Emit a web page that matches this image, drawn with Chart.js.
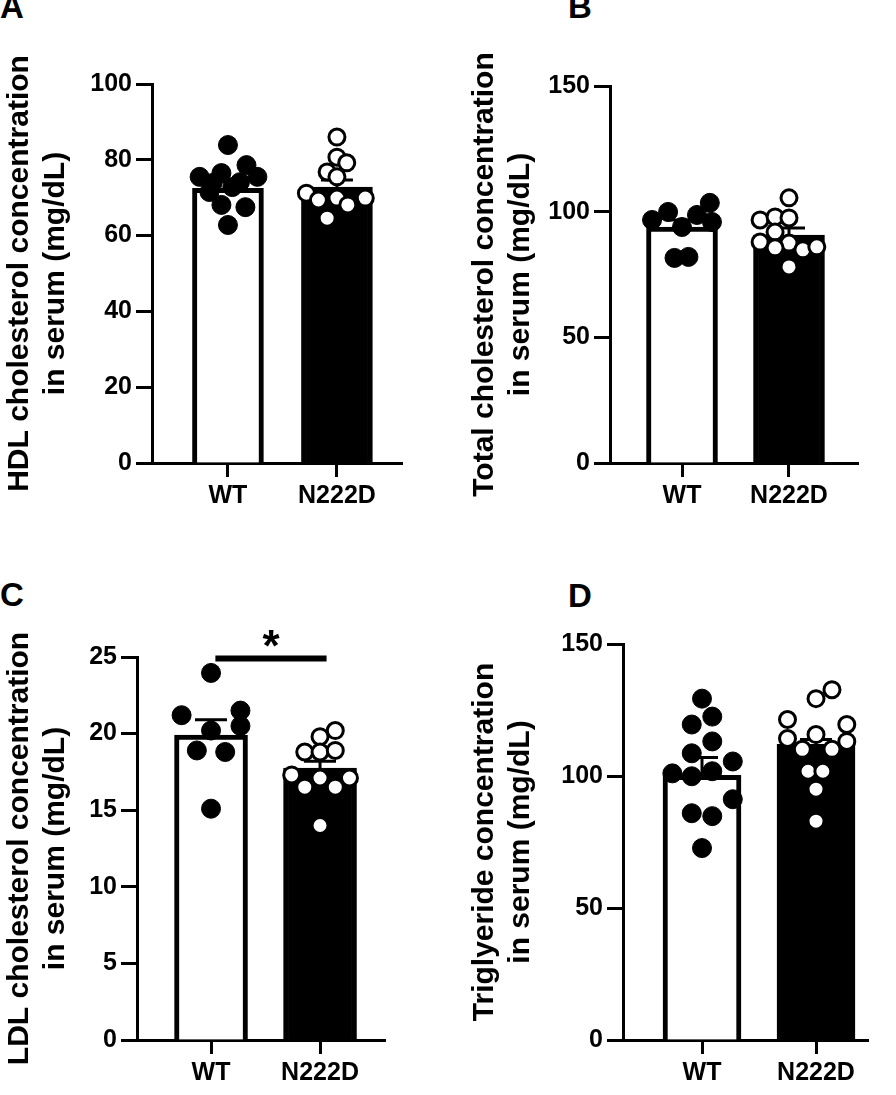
<!DOCTYPE html>
<html>
<head>
<meta charset="utf-8">
<script src="https://cdn.jsdelivr.net/npm/chart.js@4.4.0/dist/chart.umd.min.js"></script>
<style>
  body { margin: 0; background: #fff; width: 896px; height: 1095px; position: relative; overflow: hidden;
         font-family: "Liberation Sans", Arial, sans-serif; }
  canvas { position: absolute; }
  .tag { position: absolute; font-weight: bold; font-size: 33px; line-height: 1; color: #000; }
</style>
</head>
<body>
<div class="tag" style="left:0px;top:-10px">A</div>
<div class="tag" style="left:568px;top:-10px">B</div>
<div class="tag" style="left:0px;top:578px">C</div>
<div class="tag" style="left:568px;top:579px">D</div>

<canvas id="chartA" width="448" height="540" style="left:0;top:0"></canvas>
<canvas id="chartB" width="448" height="540" style="left:448px;top:0"></canvas>
<canvas id="chartC" width="448" height="555" style="left:0;top:540px"></canvas>
<canvas id="chartD" width="448" height="555" style="left:448px;top:540px"></canvas>

<script>
const groups = ['WT', 'N222D'];

// A - HDL cholesterol
const hdlMean = [72.5, 72.8];
const hdlSem = [1.7, 1.9];
const hdlWT = [83.9, 75.5, 76.5, 78.6, 75.5, 71.5, 72.8, 68.1, 67.5, 62.8, 74.1, 73.9];
const hdlWTx = [0, -0.26, -0.06, 0.17, 0.27, -0.17, 0.04, -0.06, 0.16, 0, 0.11, -0.14];
const hdlMut = [86.0, 80.7, 79.2, 76.8, 75.5, 71.2, 69.4, 69.9, 68.1, 69.9, 64.6];
const hdlMutx = [0, 0, 0.09, -0.09, 0, -0.28, -0.17, 0, 0.1, 0.26, -0.09];

// B - total cholesterol
const totMean = [93.9, 90.7];
const totSem = [2.8, 2.8];
const totWT = [96.7, 99.9, 98.7, 103.5, 95.9, 93.9, 81.6, 82.0];
const totWTx = [-0.28, -0.13, 0.14, 0.26, 0.28, 0, -0.07, 0.06];
const totMut = [105.5, 96.7, 97.9, 97.5, 91.9, 87.9, 87.5, 85.6, 84.8, 86.0, 78.0];
const totMutx = [0, -0.27, -0.13, 0, -0.13, -0.27, 0, -0.13, 0.13, 0.26, 0];

// C - LDL cholesterol
const ldlMean = [19.9, 17.75];
const ldlSem = [1.0, 0.45];
const ldlWT = [23.96, 21.2, 21.5, 20.5, 20.2, 18.9, 18.8, 15.1];
const ldlWTx = [0, -0.27, 0.27, 0.27, 0, -0.13, 0.13, 0];
const ldlMut = [20.2, 19.8, 18.8, 18.8, 18.9, 17.3, 17.1, 17.1, 16.5, 16.5, 14.0];
const ldlMutx = [0.14, 0, -0.14, 0, 0.14, -0.26, 0, 0.27, -0.14, 0.14, 0];
const ldlSig = { from: 1.04, to: 2.06, y: 24.9, label: '*' };

// D - triglyceride
const tgMean = [100.3, 112.0];
const tgSem = [6.7, 1.8];
const tgWT = [129.3, 122.5, 119.5, 113.1, 108.6, 105.5, 101.0, 99.9, 101.8, 91.2, 85.9, 84.8, 72.7];
const tgWTx = [0, 0.09, -0.09, 0.09, -0.09, 0.27, -0.26, -0.09, 0.09, 0.27, -0.09, 0.09, 0];
const tgMut = [129.3, 132.7, 121.4, 119.5, 114.2, 115.7, 113.1, 110.1, 110.1, 101.8, 101.8, 95.0, 82.9];
const tgMutx = [0, 0.14, -0.25, 0.27, -0.25, 0, 0.27, -0.12, 0.14, -0.07, 0.06, 0, 0];

const FONT = '"Liberation Sans", Arial, sans-serif';

// group g sits at x = g + 1 on the linear x axis
function pts(vals, offs, g) {
    return vals.map((v, i) => ({ x: g + 1 + offs[i], y: v }));
}

function makePanel(id, p) {
    const canvas = document.getElementById(id);
    const W = canvas.width, H = canvas.height;

    // mean + SEM, drawn right after the bars so the dots sit on top
    const errorBars = {
        id: 'errorBars',
        afterDatasetDraw(chart, args) {
            if (args.meta.type !== 'bar') return;
            const { ctx, scales: { x, y } } = chart;
            ctx.save();
            ctx.strokeStyle = '#000';
            ctx.lineWidth = 3;
            p.mean.forEach((m, i) => {
                const px = x.getPixelForValue(i + 1);
                const base = y.getPixelForValue(m);
                const top = y.getPixelForValue(m + p.sem[i]);
                ctx.beginPath();
                ctx.moveTo(px, base);
                ctx.lineTo(px, top);
                ctx.moveTo(px - 16, top);
                ctx.lineTo(px + 16, top);
                ctx.stroke();
            });
            ctx.restore();
        }
    };

    const sigMark = {
        id: 'sigMark',
        afterDraw(chart) {
            if (!p.sig) return;
            const { ctx, scales: { x, y } } = chart;
            const x1 = x.getPixelForValue(p.sig.from);
            const x2 = x.getPixelForValue(p.sig.to);
            const py = y.getPixelForValue(p.sig.y);
            ctx.save();
            ctx.strokeStyle = '#000';
            ctx.lineWidth = 6;
            ctx.beginPath();
            ctx.moveTo(x1, py);
            ctx.lineTo(x2, py);
            ctx.stroke();
            ctx.fillStyle = '#000';
            ctx.font = 'bold 44px ' + FONT;
            ctx.textAlign = 'center';
            ctx.textBaseline = 'alphabetic';
            ctx.fillText(p.sig.label, (x1 + x2) / 2, py + 2);
            ctx.restore();
        }
    };

    return new Chart(canvas, {
        type: 'bar',
        data: {
            datasets: [
                {
                    type: 'bar',
                    data: p.mean.map((m, i) => ({ x: i + 1, y: m })),
                    backgroundColor: ['#ffffff', '#000000'],
                    borderColor: '#000',
                    borderWidth: 5,
                    barThickness: p.barW,
                    order: 3
                },
                {
                    type: 'scatter',
                    data: pts(p.wt, p.wtX, 0),
                    pointRadius: 9.5,
                    pointBackgroundColor: '#000',
                    pointBorderColor: '#000',
                    pointBorderWidth: 1,
                    clip: false,
                    order: 1
                },
                {
                    type: 'scatter',
                    data: pts(p.mut, p.mutX, 1),
                    pointRadius: 8,
                    pointBackgroundColor: '#fff',
                    pointBorderColor: '#000',
                    pointBorderWidth: 3,
                    clip: false,
                    order: 1
                }
            ]
        },
        options: {
            responsive: false,
            animation: false,
            devicePixelRatio: 1,
            layout: { padding: { left: 0, top: p.area.top, right: W - p.area.right, bottom: 0 } },
            plugins: { legend: { display: false }, tooltip: { enabled: false } },
            scales: {
                x: {
                    type: 'linear',
                    offset: false,
                    bounds: 'data',
                    min: p.xMin,
                    max: p.xMax,
                    afterFit: s => { s.height = H - p.area.bottom; },
                    afterBuildTicks: s => { s.ticks = groups.map((g, i) => ({ value: i + 1 })); },
                    border: { display: true, color: '#000', width: 3 },
                    grid: { offset: false, drawOnChartArea: false, drawTicks: true, tickLength: 14, tickWidth: 3, tickColor: '#000', color: '#000' },
                    ticks: {
                        autoSkip: false, maxRotation: 0, padding: 4, color: '#000',
                        font: { family: FONT, size: 25, weight: 'bold' },
                        callback: v => groups[Math.round(v) - 1]
                    }
                },
                y: {
                    min: 0,
                    max: p.yMax,
                    afterFit: s => { s.width = p.area.left; },
                    border: { display: true, color: '#000', width: 3 },
                    grid: { drawOnChartArea: false, drawTicks: true, tickLength: 16, tickWidth: 3, tickColor: '#000', color: '#000' },
                    ticks: {
                        stepSize: p.yStep, padding: 4, color: '#000',
                        font: { family: FONT, size: 25, weight: 'bold' }
                    },
                    title: {
                        display: true,
                        text: p.title,
                        color: '#000',
                        font: { family: FONT, size: 30, weight: 'bold' },
                        padding: { top: p.titlePad, bottom: 0 }
                    }
                }
            }
        },
        plugins: [errorBars, sigMark]
    });
}

makePanel('chartA', {
    mean: hdlMean, sem: hdlSem, wt: hdlWT, wtX: hdlWTx, mut: hdlMut, mutX: hdlMutx,
    yMax: 100, yStep: 20, barW: 71, xMin: 0.303, xMax: 2.597, titlePad: 2,
    area: { left: 152, top: 84, right: 402, bottom: 463 },
    title: ['HDL cholesterol concentration', 'in serum (mg/dL)']
});
makePanel('chartB', {
    mean: totMean, sem: totSem, wt: totWT, wtX: totWTx, mut: totMut, mutX: totMutx,
    yMax: 150, yStep: 50, barW: 71, xMin: 0.327, xMax: 2.645, titlePad: 19,
    area: { left: 162, top: 86, right: 410, bottom: 463 },
    title: ['Total cholesterol concentration', 'in serum (mg/dL)']
});
makePanel('chartC', {
    mean: ldlMean, sem: ldlSem, wt: ldlWT, wtX: ldlWTx, mut: ldlMut, mutX: ldlMutx,
    yMax: 25, yStep: 5, barW: 73, xMin: 0.321, xMax: 2.596, titlePad: 2, sig: ldlSig,
    area: { left: 137, top: 117, right: 385, bottom: 500 },
    title: ['LDL cholesterol concentration', 'in serum (mg/dL)']
});
makePanel('chartD', {
    mean: tgMean, sem: tgSem, wt: tgWT, wtX: tgWTx, mut: tgMut, mutX: tgMutx,
    yMax: 150, yStep: 50, barW: 78, xMin: 0.307, xMax: 2.456, titlePad: 19,
    area: { left: 175, top: 104, right: 420, bottom: 500 },
    title: ['Triglyeride concentration', 'in serum (mg/dL)']
});
</script>
</body>
</html>
